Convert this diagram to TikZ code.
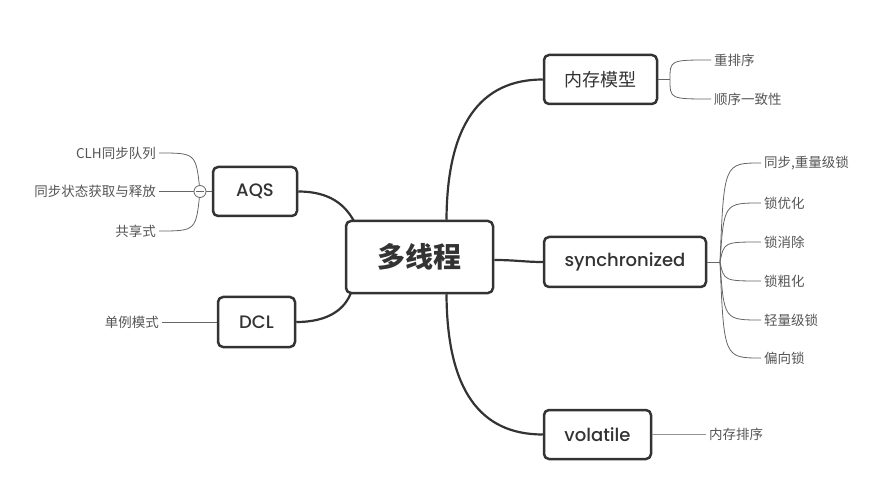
\documentclass[tikz,border=0pt]{standalone}
\usepackage{fontspec}
\setmainfont{Noto Sans CJK SC}
\newfontfamily\latinfont{Poppins Medium}
\usetikzlibrary{calc}

\definecolor{boxcol}{HTML}{333333}
\definecolor{leafcol}{HTML}{555555}
\definecolor{linecol}{HTML}{666666}

\tikzset{
  topic/.style={draw=boxcol, line width=2.5bp, rounded corners=5bp, text=boxcol, inner sep=0pt,
    font=\fontsize{18bp}{21bp}\selectfont},
  leaf/.style={text=leafcol, inner sep=3bp, font=\fontsize{13.5bp}{16bp}\selectfont},
  trunk/.style={draw=boxcol, line width=2.2bp},
  twig/.style={draw=linecol, line width=0.8bp},
}

\begin{document}
\begin{tikzpicture}[x=1bp,y=-1bp,line join=bevel]
    \useasboundingbox (0,0) rectangle (878,501);
    %%
    % Node: main
    \node[topic, minimum width=147bp, minimum height=72bp,
      font=\fontsize{28bp}{32bp}\selectfont\bfseries] (main) at (419.5,257) {多线程};
    % Node: mem
    \node[topic, minimum width=113bp, minimum height=49bp] (mem) at (600.5,79.5) {内存模型};
    % Node: sync
    \node[topic, minimum width=162bp, minimum height=50bp] (sync) at (625,262) {\latinfont synchronized};
    % Node: vol
    \node[topic, minimum width=107bp, minimum height=49bp] (vol) at (597.5,434.5) {\latinfont volatile};
    % Node: aqs
    \node[topic, minimum width=84bp, minimum height=49bp] (aqs) at (255,191.5) {\latinfont AQS};
    % Node: dcl
    \node[topic, minimum width=77bp, minimum height=50bp] (dcl) at (256.5,322) {\latinfont DCL};
    %
    % Edge: main -> mem
    \draw[trunk] ($(main.north)+(27,0)$) .. controls (447,125) and (480,79.5) .. (mem.west);
    % Edge: main -> sync
    \draw[trunk] ($(main.east)+(0,3)$) .. controls (515,260) and (525,262) .. (sync.west);
    % Edge: main -> vol
    \draw[trunk] ($(main.south)+(27,0)$) .. controls (447,390) and (480,434.5) .. (vol.west);
    % Edge: main -> aqs
    \draw[trunk] (aqs.east) .. controls (330,191.5) and (345,205) .. ($(main.north west)+(9,1)$);
    % Edge: main -> dcl
    \draw[trunk] (dcl.east) .. controls (330,322) and (345,308) .. ($(main.south west)+(6,-1)$);
    %
    % Leaves: mem
    \node[leaf, anchor=west] (mem1) at (711,60) {重排序};
    \node[leaf, anchor=west] (mem2) at (711,99) {顺序一致性};
    \coordinate (memj) at (670,79.5);
    \draw[twig] (mem.east) -- (memj);
    \foreach \n in {mem1,mem2}
        \draw[twig] (memj) .. controls (memj |- \n.west) .. (\n.west);
    %
    % Leaves: sync
    \node[leaf, anchor=west] (sync1) at (761,163) {同步,重量级锁};
    \node[leaf, anchor=west] (sync2) at (761,203) {锁优化};
    \node[leaf, anchor=west] (sync3) at (761,242) {锁消除};
    \node[leaf, anchor=west] (sync4) at (761,281) {锁粗化};
    \node[leaf, anchor=west] (sync5) at (761,320) {轻量级锁};
    \node[leaf, anchor=west] (sync6) at (761,358) {偏向锁};
    \coordinate (syncj) at (720,262);
    \draw[twig] (sync.east) -- (syncj);
    \foreach \n in {sync1,sync2,sync3,sync4,sync5,sync6}
        \draw[twig] (syncj) .. controls ($(syncj |- \n.west)+(4,0)$) .. (\n.west);
    %
    % Leaves: vol
    \node[leaf, anchor=west] (vol1) at (706,434.5) {内存排序};
    \draw[twig, draw=linecol!70, line width=1.2bp] (vol.east) -- (vol1.west);
    %
    % Leaves: aqs
    \node[leaf, anchor=east] (aqs1) at (159,153) {CLH同步队列};
    \node[leaf, anchor=east] (aqs2) at (159,191.5) {同步状态获取与释放};
    \node[leaf, anchor=east] (aqs3) at (159,231) {共享式};
    \coordinate (aqsj) at (200,191.5);
    \draw[twig] (aqs.west) -- (aqsj);
    \foreach \n in {aqs1,aqs2,aqs3}
        \draw[twig] (\n.east) .. controls ($(aqsj |- \n.east)+(-4,0)$) .. (aqsj);
    \node[circle, draw=linecol, line width=0.8bp, fill=white, minimum size=12bp, inner sep=0pt] (aqsdot) at (aqsj) {};
    \draw[twig] ($(aqsdot.center)+(-4,0)$) -- ($(aqsdot.center)+(4,0)$);
    %
    % Leaves: dcl
    \node[leaf, anchor=east] (dcl1) at (162,322) {单例模式};
    \draw[twig] (dcl.west) -- (dcl1.east);
    %
\end{tikzpicture}
\end{document}
